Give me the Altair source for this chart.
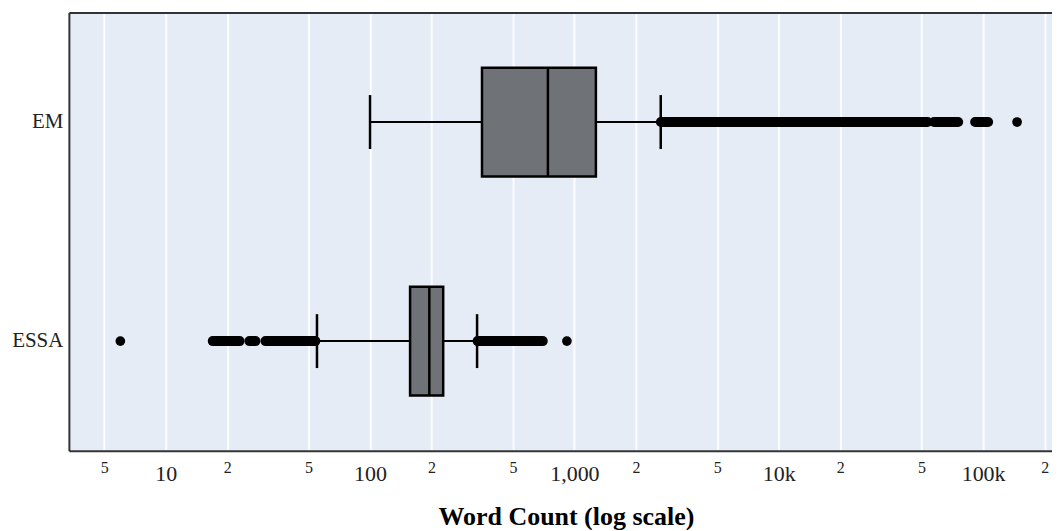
import altair as alt
import pandas as pd

# ---- data ----
groups = ["EM", "ESSA"]
whisker_low = [100, 55]
q1 = [353, 157]
median = [742, 195]
q3 = [1274, 228]
whisker_high = [2645, 334]

# dense runs of outliers (drawn as continuous streaks): group, first, last
run_group = ["EM", "EM", "EM", "ESSA", "ESSA", "ESSA", "ESSA"]
run_start = [2650, 57500, 91400, 17.0, 25.7, 30.8, 336]
run_end = [53500, 75500, 105800, 23.0, 27.5, 54.0, 700]

# isolated outliers
point_group = ["EM", "ESSA", "ESSA"]
point_value = [146600, 6.0, 919]

tick_values = [5, 10, 20, 50, 100, 200, 500, 1000, 2000, 5000, 10000, 20000, 50000, 100000, 200000]
tick_labels = ["5", "10", "2", "5", "100", "2", "5", "1,000", "2", "5", "10k", "2", "5", "100k", "2"]
major_ticks = [10, 100, 1000, 10000, 100000]
x_domain = [3.36, 217300]

FONT = "Liberation Serif"
BORDER = "#333333"
BOX_FILL = "#6F7277"
TEXT = "#222222"

box_df = pd.DataFrame({"group": groups, "lo": whisker_low, "q1": q1, "med": median,
                       "q3": q3, "hi": whisker_high})
run_df = pd.DataFrame({"group": run_group, "start": run_start, "end": run_end})
pt_df = pd.DataFrame({"group": point_group, "value": point_value})

label_expr = "''"
for v, l in reversed(list(zip(tick_values, tick_labels))):
    label_expr = f"datum.value == {v} ? '{l}' : ({label_expr})"
major_test = "indexof([" + ",".join(str(v) for v in major_ticks) + "], datum.value) >= 0"

x_scale = alt.Scale(type="log", domain=x_domain, nice=False)

bottom_axis = alt.Axis(
    values=tick_values, labelExpr=label_expr,
    labelFont=FONT, labelColor=TEXT,
    labelFontSize={"condition": {"test": major_test, "value": 22}, "value": 16},
    labelPadding={"condition": {"test": major_test, "value": 13}, "value": 9},
    labelFlush=False, labelOverlap=False, ticks=False,
    grid=True, gridColor="white", gridWidth=2, gridOpacity=0.85,
    domainColor=BORDER, domainWidth=2,
    title="Word Count (log scale)", titleFont=FONT, titleFontSize=26,
    titleFontWeight="bold", titleColor="black", titlePadding=19,
    titleX=498, titleAlign="center",
)
top_axis = alt.Axis(orient="top", labels=False, ticks=False, grid=False,
                    domainColor=BORDER, domainWidth=2, title=None)

y_enc = alt.Y("group:N", scale=alt.Scale(type="band", domain=groups, paddingInner=0, paddingOuter=0),
              axis=alt.Axis(title=None, ticks=False, grid=False, labelFont=FONT, labelFontSize=21,
                            labelColor=TEXT, labelPadding=6, domainColor=BORDER, domainWidth=2))

base = alt.Chart(box_df)

whisk_lo = base.mark_rule(color="black", strokeWidth=2).encode(
    x=alt.X("lo:Q", scale=x_scale, axis=bottom_axis), x2="q1:Q", y=y_enc)
whisk_hi = base.mark_rule(color="black", strokeWidth=2).encode(
    x=alt.X("q3:Q", scale=x_scale, axis=top_axis), x2="hi:Q", y=y_enc)
cap_lo = base.mark_tick(color="black", size=54, thickness=2.5, opacity=1).encode(
    x=alt.X("lo:Q", scale=x_scale, axis=None), y=y_enc)
cap_hi = base.mark_tick(color="black", size=54, thickness=2.5, opacity=1).encode(
    x=alt.X("hi:Q", scale=x_scale, axis=None), y=y_enc)
runs = alt.Chart(run_df).mark_rule(color="black", strokeWidth=10, strokeCap="round").encode(
    x=alt.X("start:Q", scale=x_scale, axis=None), x2="end:Q", y=y_enc)
pts = alt.Chart(pt_df).mark_circle(color="black", size=95, opacity=1).encode(
    x=alt.X("value:Q", scale=x_scale, axis=None), y=y_enc)
box = base.mark_bar(fill=BOX_FILL, stroke="black", strokeWidth=2.5, size=109).encode(
    x=alt.X("q1:Q", scale=x_scale, axis=None), x2="q3:Q", y=y_enc)
med = base.mark_tick(color="black", size=109, thickness=2.5, opacity=1).encode(
    x=alt.X("med:Q", scale=x_scale, axis=None), y=y_enc)

chart = alt.layer(whisk_lo, whisk_hi, cap_lo, cap_hi, runs, pts, box, med).resolve_axis(
    x="independent"
).properties(
    width=985, height=439,
    padding={"left": 3, "top": 4, "right": 0, "bottom": 0},
    background="white",
).configure_view(fill="#E5ECF6", stroke=None)

chart.save("out.html", embed_options={"renderer": "svg", "actions": False})
